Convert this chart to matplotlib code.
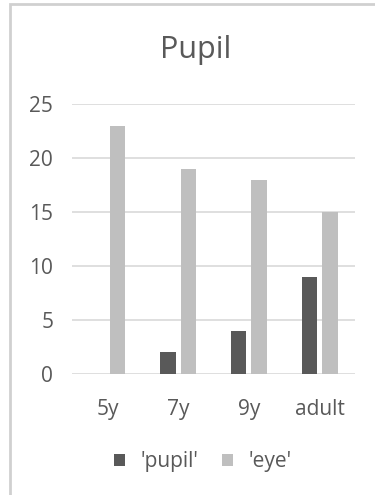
import numpy as np, matplotlib
matplotlib.use("Agg")
import matplotlib.pyplot as plt
from matplotlib.patches import Rectangle

plt.rcParams.update({"font.family": ["Open Sans", "DejaVu Sans"]})

categories = ["5y", "7y", "9y", "adult"]
pupil = [0, 2, 4, 9]
eye = [23, 19, 18, 15]
series_names = ["'pupil'", "'eye'"]

DARK, LIGHT, GRID, TXT = "#595959", "#bfbfbf", "#d9d9d9", "#595959"

fig = plt.figure(figsize=(3.75, 4.95), dpi=100)
# chart frame (Excel-style border, cut at right/bottom)
fig.patches.append(Rectangle((10/375, -0.05), 1.2, 1 - 4/495 + 0.05, transform=fig.transFigure,
                             fill=False, edgecolor="#d0d0d0", lw=2))
ax = fig.add_axes([72/375, 1 - 374/495, 283/375, 270/495])
x = np.arange(len(categories))
w = 0.22
ax.bar(x - 0.145, pupil, w, color=DARK, label=series_names[0], zorder=3)
ax.bar(x + 0.145, eye, w, color=LIGHT, label=series_names[1], zorder=3)
ax.set_xlim(-0.5, 3.5); ax.set_ylim(0, 25)
ax.set_yticks(range(0, 26, 5))
ax.set_xticks(x); ax.set_xticklabels(categories)
ax.grid(axis="y", color=GRID, lw=1.2, zorder=0)
for s in ax.spines.values(): s.set_visible(False)
ax.tick_params(length=0, labelsize=15, colors=TXT)
ax.tick_params(axis="y", pad=13.5)
ax.tick_params(axis="x", pad=18)
fig.text(196/375, 1 - 50/495, "Pupil", ha="center", va="center", fontsize=22, color=TXT)
fig.legend(loc="center", bbox_to_anchor=(203/375, 1 - 462/495), ncol=2, frameon=False,
           fontsize=15, labelcolor=TXT, handlelength=0.55, handleheight=0.55,
           handletextpad=0.75, columnspacing=1.1)
fig.savefig("out.png", dpi=100)
